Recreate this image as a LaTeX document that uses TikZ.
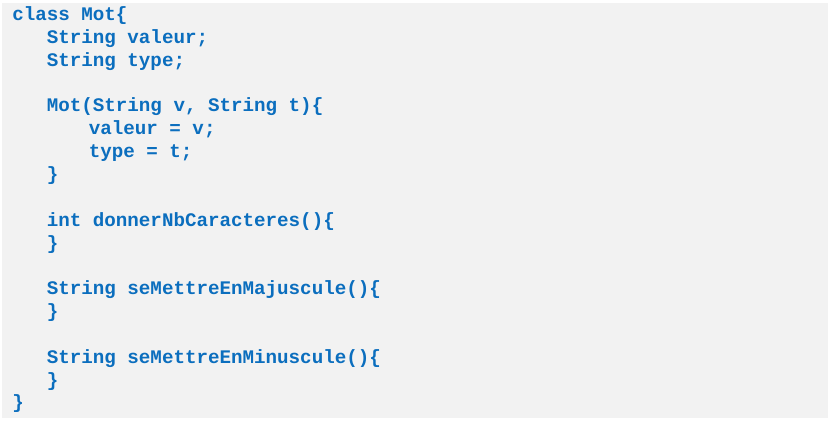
\documentclass[tikz,border=0pt]{standalone}
\usepackage{fontspec}
\setmonofont{Liberation Mono}
\definecolor{codeblue}{HTML}{0B6EBE}
\definecolor{codebg}{HTML}{F2F2F2}
\begin{document}
\begin{tikzpicture}[x=1pt,y=-1pt,
  code/.style={anchor=base west,inner sep=0pt,outer sep=0pt,text=codeblue,
    font=\fontsize{19.2}{22.85}\selectfont\ttfamily\bfseries}]
\useasboundingbox (0,0) rectangle (837,430);
\fill[codebg] (2,3) rectangle (828,418);
\def\Lx{12.3}
\def\Lxa{46.8}
\def\Lxb{88.8}
\node[code] (l1)  at (\Lx,20.5) {class Mot\{};
\node[code] (l2)  at (\Lxa,43.35) {String valeur;};
\node[code] (l3)  at (\Lxa,66.2) {String type;};
\node[code] (l5)  at (\Lxa,111.9) {Mot(String v, String t)\{};
\node[code] (l6)  at (\Lxb,134.75) {valeur = v;};
\node[code] (l7)  at (\Lxb,157.6) {type = t;};
\node[code] (l8)  at (\Lxa,180.45) {\}};
\node[code] (l10) at (\Lxa,226.15) {int donnerNbCaracteres()\{};
\node[code] (l11) at (\Lxa,249.0) {\}};
\node[code] (l13) at (\Lxa,294.7) {String seMettreEnMajuscule()\{};
\node[code] (l14) at (\Lxa,317.55) {\}};
\node[code] (l16) at (\Lxa,363.25) {String seMettreEnMinuscule()\{};
\node[code] (l17) at (\Lxa,386.1) {\}};
\node[code] (l18) at (\Lx,408.95) {\}};
\end{tikzpicture}
\end{document}
